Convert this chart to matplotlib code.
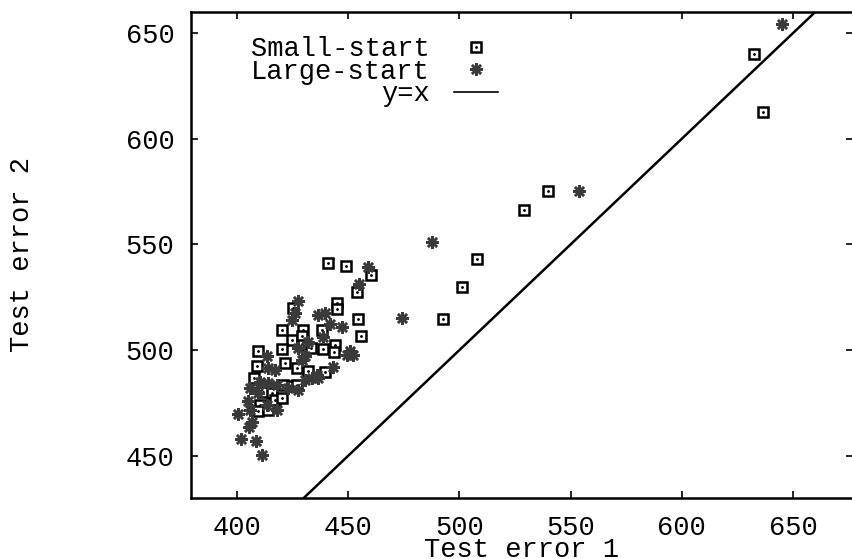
import matplotlib
matplotlib.use("Agg")
import matplotlib.pyplot as plt
from matplotlib.lines import Line2D

# Test error 1 (x) vs Test error 2 (y)
small_x = [632.5, 636.5, 540.0, 529.0, 507.8, 501.3, 492.5, 441.1, 448.9, 460.1,
           454.1, 444.8, 444.8, 425.3, 454.3, 420.1, 429.5, 438.1, 455.6, 424.6,
           429.4, 429.8, 433.3, 438.8, 444.1, 420.1, 409.6, 443.8, 408.8, 421.6,
           426.8, 431.8, 439.6, 407.8, 420.8, 424.6, 426.8, 411.8, 415.6, 417.1,
           420.1, 410.3, 409.6, 414.1]
small_y = [640.2, 612.7, 575.5, 566.4, 543.0, 529.8, 514.7, 541.4, 539.9, 535.6,
           527.7, 522.2, 519.4, 519.9, 514.8, 509.6, 509.6, 509.3, 506.7, 504.9,
           506.7, 502.5, 500.9, 500.4, 502.5, 500.4, 499.5, 499.3, 492.6, 493.8,
           491.5, 489.9, 489.4, 486.8, 483.6, 482.8, 483.6, 480.4, 479.7, 476.5,
           477.3, 474.1, 471.0, 471.8]

large_x = [644.9, 553.8, 487.7, 474.3, 458.8, 455.0, 427.6, 426.1, 424.6, 436.6,
           439.6, 441.8, 447.3, 438.8, 432.0, 427.6, 450.8, 413.4, 430.6, 449.3,
           452.3, 414.1, 417.1, 429.0, 435.8, 443.3, 430.6, 433.6, 436.6, 410.3,
           414.1, 417.9, 423.1, 427.6, 405.8, 409.6, 405.1, 413.4, 417.9, 405.8,
           400.6, 406.6, 405.4, 401.8, 408.4, 411.4]
large_y = [654.4, 575.5, 551.0, 515.1, 539.3, 531.2, 523.0, 517.5, 514.3, 516.7,
           517.5, 512.4, 510.9, 506.1, 504.0, 500.9, 499.5, 497.3, 497.0, 497.8,
           497.8, 491.5, 490.7, 495.4, 488.3, 492.0, 486.0, 486.8, 486.8, 485.1,
           484.4, 483.6, 482.0, 481.2, 482.0, 479.7, 475.7, 474.1, 471.8, 471.8,
           469.9, 466.2, 463.6, 457.9, 456.8, 450.5]

diag = [380, 680]

plt.rcParams['font.family'] = ['Liberation Mono', 'DejaVu Sans Mono']
fs = 19.5

fig = plt.figure(figsize=(8.53, 5.59), dpi=100)
ax = fig.add_axes([191 / 853, 61 / 559, 662 / 853, 486 / 559])

sq = dict(ls='none', marker='s', ms=7, mfc='white', mec='black', mew=1.8)
dot = dict(ls='none', marker='.', ms=2, color='black')
star = dict(ls='none', marker=(8, 2, 0), ms=9, color='#3a3a3a', mew=1.8)

ax.plot(small_x, small_y, **sq)
ax.plot(small_x, small_y, **dot)
ax.plot(large_x, large_y, **star)
ax.plot(diag, diag, color='black', lw=1.8)

ax.set_xlim(379.3, 677)
ax.set_ylim(430, 660)
ax.set_xticks([400, 450, 500, 550, 600, 650])
ax.set_yticks([450, 500, 550, 600, 650])
ax.tick_params(direction='in', length=5, width=1.2, top=True, right=True,
               pad=12, labelsize=fs)
for s in ['left', 'bottom', 'top']:
    ax.spines[s].set_linewidth(1.8)
ax.spines['right'].set_visible(False)

ax.set_xlabel('Test error 1', fontsize=fs)
ax.set_ylabel('Test error 2', fontsize=fs)
ax.xaxis.set_label_coords(0.5, -0.081)
ax.yaxis.set_label_coords(-0.235, 0.5)

h_small = (Line2D([], [], **sq), Line2D([], [], **dot))
h_large = Line2D([], [], **star)
h_line = Line2D([], [], color='black', lw=1.2)
ax.legend([h_small, h_large, h_line], ['Small-start', 'Large-start', 'y=x'],
          markerfirst=False, frameon=False, loc='upper right',
          bbox_to_anchor=(0.5, 1.0), fontsize=fs, handlelength=1.6,
          handletextpad=0.92, labelspacing=-0.13)

fig.savefig('out.png', dpi=100)
